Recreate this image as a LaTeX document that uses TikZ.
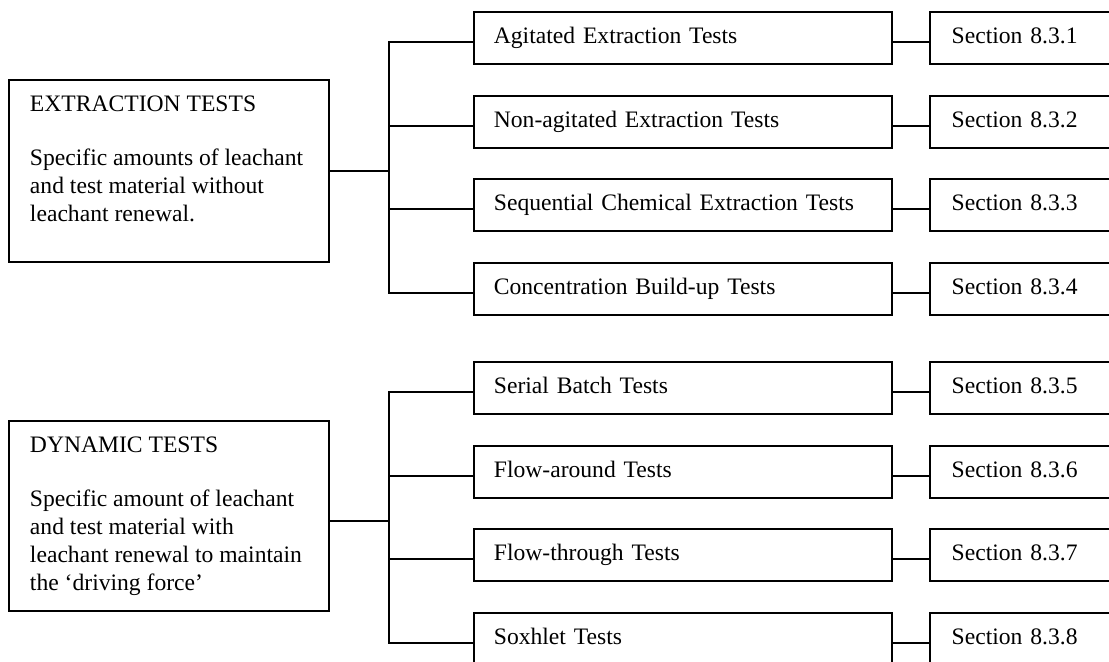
\documentclass[tikz,border=0pt]{standalone}
\usepackage{fontspec}
\setmainfont{Liberation Serif}
\usetikzlibrary{positioning}

\begin{document}
\begin{tikzpicture}[x=0.5pt, y=-0.5pt,
  every node/.style={font=\fontsize{11.8pt}{14pt}\selectfont},
  groupbox/.style={draw, line width=0.9pt, inner xsep=10.5pt, inner ysep=8pt},
  testbox/.style={draw, line width=0.9pt, anchor=west, minimum height=26pt,
    text width=189pt, inner xsep=10pt, align=left,
    text height=8pt, text depth=2.5pt},
  secbox/.style={draw, line width=0.9pt, minimum height=26pt,
    text width=128pt, inner xsep=11pt, align=left,
    text height=8pt, text depth=2.5pt},
  link/.style={line width=0.9pt}]

  % ---- Page frame (the figure is cut at the right and bottom) ----
  \useasboundingbox (0,0) rectangle (1109,661);
  \clip (0,0) rectangle (1109,661);

  % ============ EXTRACTION TESTS ============

  \node[groupbox] (extr) at (169,171)
    {\parbox[c][75pt][t]{139pt}{\raggedright
     EXTRACTION TESTS\\[13pt]
     Specific amounts of leachant\\
     and test material without\\
     leachant renewal.}};

  % Test types
  \node[testbox] (agit)  at (473,38)  {Agitated Extraction Tests};
  \node[testbox] (nonag) at (473,122) {Non-agitated Extraction Tests};
  \node[testbox] (seqch) at (473,205) {Sequential Chemical Extraction Tests};
  \node[testbox] (build) at (473,289) {Concentration Build-up Tests};

  % Section references
  \node[secbox, right=18pt of agit]  (sec1) {Section 8.3.1};
  \node[secbox, right=18pt of nonag] (sec2) {Section 8.3.2};
  \node[secbox, right=18pt of seqch] (sec3) {Section 8.3.3};
  \node[secbox, right=18pt of build] (sec4) {Section 8.3.4};

  % Tree lines
  \coordinate (xbus) at (389,171);
  \draw[link] (extr.east) -- (xbus);
  \draw[link] ([yshift=-2pt]agit.west)  -| (xbus);
  \draw[link] ([yshift=-2pt]nonag.west) -| (xbus);
  \draw[link] ([yshift=-2pt]seqch.west) -| (xbus);
  \draw[link] ([yshift=-2pt]build.west) -| (xbus);

  \draw[link] ([yshift=-2pt]agit.east)  -- ([yshift=-2pt]sec1.west);
  \draw[link] ([yshift=-2pt]nonag.east) -- ([yshift=-2pt]sec2.west);
  \draw[link] ([yshift=-2pt]seqch.east) -- ([yshift=-2pt]sec3.west);
  \draw[link] ([yshift=-2pt]build.east) -- ([yshift=-2pt]sec4.west);

  % ============ DYNAMIC TESTS ============

  \node[groupbox] (dyn) at (169,516)
    {\parbox[c][79pt][t]{139pt}{\raggedright
     DYNAMIC TESTS\\[13pt]
     Specific amount of leachant\\
     and test material with\\
     leachant renewal to maintain\\
     the `driving force'}};

  % Test types
  \node[testbox] (serial) at (473,388) {Serial Batch Tests};
  \node[testbox] (around) at (473,472) {Flow-around Tests};
  \node[testbox] (through) at (473,555) {Flow-through Tests};
  \node[testbox] (soxh)   at (473,639) {Soxhlet Tests};

  % Section references
  \node[secbox, right=18pt of serial]  (sec5) {Section 8.3.5};
  \node[secbox, right=18pt of around]  (sec6) {Section 8.3.6};
  \node[secbox, right=18pt of through] (sec7) {Section 8.3.7};
  \node[secbox, right=18pt of soxh]    (sec8) {Section 8.3.8};

  % Tree lines
  \coordinate (dbus) at (389,521);
  \draw[link] ([yshift=-2.5pt]dyn.east) -- (dbus);
  \draw[link] ([yshift=-2pt]serial.west)  -| (dbus);
  \draw[link] ([yshift=-2pt]around.west)  -| (dbus);
  \draw[link] ([yshift=-2pt]through.west) -| (dbus);
  \draw[link] ([yshift=-2pt]soxh.west)    -| (dbus);

  \draw[link] ([yshift=-2pt]serial.east)  -- ([yshift=-2pt]sec5.west);
  \draw[link] ([yshift=-2pt]around.east)  -- ([yshift=-2pt]sec6.west);
  \draw[link] ([yshift=-2pt]through.east) -- ([yshift=-2pt]sec7.west);
  \draw[link] ([yshift=-2pt]soxh.east)    -- ([yshift=-2pt]sec8.west);

\end{tikzpicture}
\end{document}
